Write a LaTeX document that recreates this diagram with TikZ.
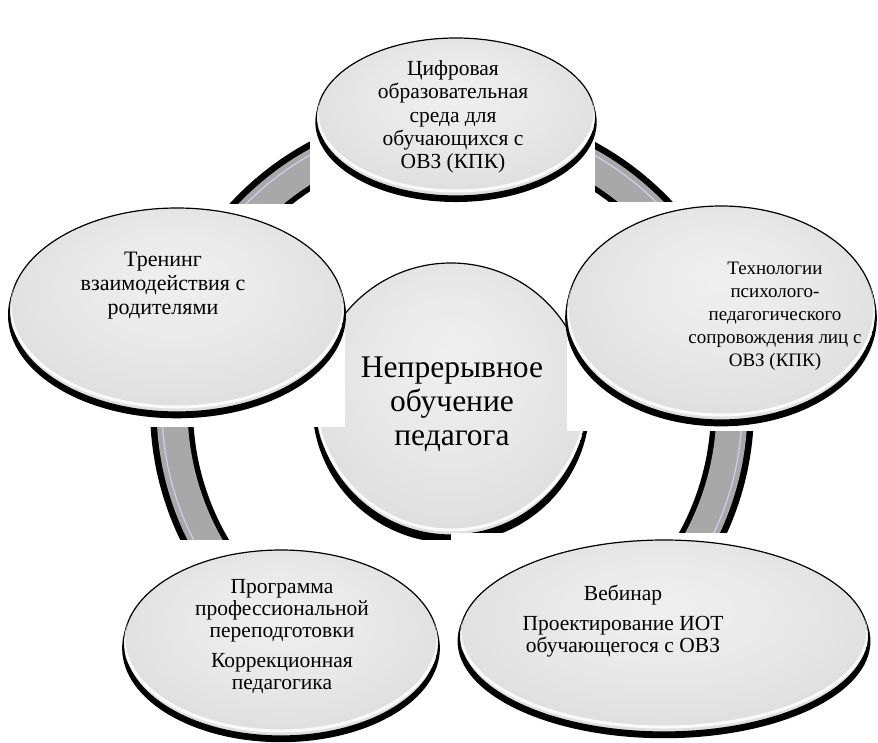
\documentclass[tikz,border=0pt]{standalone}
\usepackage{fontspec}
\setmainfont{Liberation Serif}
\usetikzlibrary{shapes.geometric,shadows}
\definecolor{ringgray}{RGB}{168,168,168}
\pgfdeclareradialshading{bubshade}{\pgfpoint{0bp}{8bp}}{color(0bp)=(white!94!black); color(16bp)=(white!91!black); color(32bp)=(white!86!black); color(44bp)=(white!79!black); color(50bp)=(white!75!black)}
\tikzset{
  bub/.style={ellipse, draw=black, line width=1.2pt, shade, shading=bubshade, inner sep=0pt, outer sep=0pt,
    drop shadow={shadow xshift=0pt, shadow yshift=-5pt, shadow scale=1.012, fill=black, opacity=1}},
  hubst/.style={circle, draw=black, line width=1.2pt, shade, shading=bubshade, inner sep=0pt, outer sep=0pt,
    drop shadow={shadow xshift=0pt, shadow yshift=-5pt, shadow scale=1.02, fill=black, opacity=1}},
  txt/.style={align=center, inner sep=0pt},
  rimline/.style={white, line width=3pt, opacity=.85},
  patch/.style={fill=white, draw=none}
}
\newcommand\rimhl[4]{%
  \begin{scope}
    \clip (#1,#2) ellipse [x radius=#3pt, y radius=#4pt];
    \draw[rimline] (#1,#2-5) ellipse [x radius=#3pt, y radius=#4pt];
  \end{scope}}
\begin{document}
\begin{tikzpicture}[x=1pt,y=-1pt]
\useasboundingbox (0,0) rectangle (878,742);
\fill[white] (0,0) rectangle (878,742);
% ring
\coordinate (rc) at (452,408);
\draw[line width=43pt, black] (rc) circle [radius=280.5pt];
\draw[line width=31pt, ringgray] (rc) circle [radius=280pt];
\draw[line width=1.2pt, white!85!blue, opacity=.8] (rc) circle [radius=290pt];
% hub
\node[hubst, minimum size=272pt] (hub) at (451,399) {};
\rimhl{451}{399}{136}{136}
% top
\fill[patch] (310,0) rectangle (595,204);
\node[bub, minimum width=278pt, minimum height=158pt] (top) at (456,117) {};
\rimhl{456}{117}{139}{79}
% left
\fill[patch] (0,204) rectangle (345,427);
\node[bub, minimum width=334pt, minimum height=204pt] (left) at (177,310) {};
\rimhl{177}{310}{167}{102}
% right
\fill[patch] (567,202) rectangle (878,431);
\node[bub, minimum width=308pt, minimum height=214pt] (right) at (721,313) {};
\rimhl{721}{313}{154}{107}
% bottom left
\fill[patch] (120,540) rectangle (451,742);
\node[bub, minimum width=314pt, minimum height=186pt] (bl) at (281,643) {};
\rimhl{281}{643}{157}{93}
% bottom right
\fill[patch] (451,533) rectangle (878,742);
\node[bub, minimum width=408pt, minimum height=192pt] (br) at (664,636) {};
\rimhl{664}{636}{204}{96}
% texts
\node[txt, font=\fontsize{21.5}{23.3}\selectfont] (ttop) at (453,117) {Цифровая\\образовательная\\среда для\\обучающихся с\\ОВЗ (КПК)};
\node[txt, font=\fontsize{31.5}{34}\selectfont] (thub) at (452,404) {Непрерывное\\обучение\\педагога};
\node[txt, font=\fontsize{22}{24}\selectfont] (tleft) at (163,286) {Тренинг\\взаимодействия с\\родителями};
\node[txt, font=\fontsize{19}{23}\selectfont] (tright) at (775,316) {Технологии\\психолого-\\педагогического\\сопровождения лиц с\\ОВЗ (КПК)};
\node[txt, font=\fontsize{21.5}{22}\selectfont] (tbr) at (623,621) {Вебинар\\[8pt]Проектирование ИОТ\\обучающегося с ОВЗ};
\node[txt, font=\fontsize{21.5}{22}\selectfont] (tbl) at (282,637) {Программа\\профессиональной\\переподготовки\\[8pt]Коррекционная\\педагогика};
\end{tikzpicture}
\end{document}
